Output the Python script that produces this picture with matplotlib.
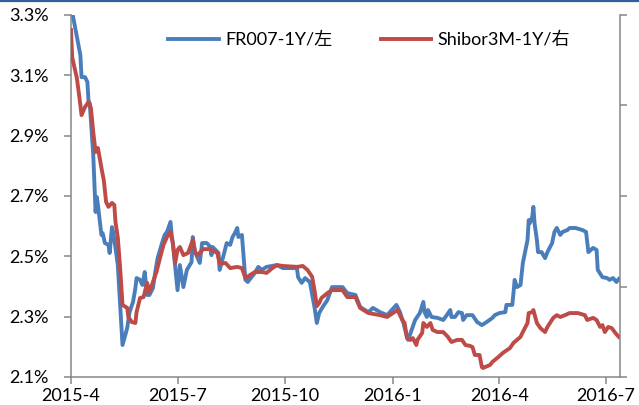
import matplotlib
matplotlib.use("Agg")
import matplotlib.pyplot as plt
from matplotlib.lines import Line2D
import pandas as pd

# days counted from 2015-04-01, values in %
start = pd.Timestamp("2015-04-01")

fr_days = [1, 8, 9, 12, 14, 15, 16, 19, 21, 22, 23, 26, 27, 29, 32, 33, 35, 36, 38, 40,
           42, 44, 48, 50, 53, 55, 56, 59, 61, 63, 65, 67, 70, 72, 74, 78, 80, 82, 85, 86,
           87, 89, 91, 93, 96, 99, 103, 104, 106, 110, 112, 116, 119, 120, 121, 126, 127, 130, 133, 136,
           138, 140, 142, 143, 146, 149, 151, 157, 160, 163, 167, 176, 181, 193, 194, 197, 200, 204, 208, 210,
           212, 215, 219, 223, 232, 236, 243, 247, 254, 258, 264, 270, 274, 278, 281, 284, 287, 288, 291, 294,
           298, 301, 302, 304, 305, 308, 313, 318, 321, 324, 325, 328, 331, 334, 335, 338, 341, 343, 347, 351,
           355, 360, 362, 366, 371, 372, 377, 378, 379, 381, 384, 386, 390, 391, 392, 394, 395, 396, 398, 399,
           402, 405, 407, 411, 413, 415, 418, 420, 424, 426, 431, 437, 440, 442, 446, 449, 450, 454, 458, 460,
           463, 466, 468]
fr_vals = [3.31, 3.167, 3.094, 3.094, 3.078, 3.012, 3.008, 2.836, 2.647, 2.697, 2.670, 2.571, 2.577, 2.544, 2.538, 2.511, 2.597, 2.581, 2.528, 2.471,
           2.339, 2.206, 2.262, 2.315, 2.349, 2.395, 2.428, 2.422, 2.405, 2.448, 2.372, 2.372, 2.395, 2.448, 2.494, 2.547, 2.571, 2.581, 2.614, 2.571,
           2.544, 2.465, 2.388, 2.471, 2.398, 2.455, 2.481, 2.564, 2.514, 2.478, 2.544, 2.544, 2.531, 2.504, 2.531, 2.511, 2.455, 2.498, 2.544, 2.538,
           2.564, 2.577, 2.594, 2.564, 2.571, 2.422, 2.415, 2.445, 2.465, 2.455, 2.465, 2.471, 2.461, 2.461, 2.431, 2.412, 2.428, 2.415, 2.332, 2.279,
           2.312, 2.332, 2.355, 2.398, 2.398, 2.378, 2.372, 2.332, 2.315, 2.329, 2.315, 2.305, 2.322, 2.339, 2.315, 2.279, 2.233, 2.223, 2.256, 2.289,
           2.312, 2.349, 2.315, 2.299, 2.322, 2.299, 2.296, 2.289, 2.305, 2.322, 2.299, 2.299, 2.315, 2.312, 2.289, 2.305, 2.305, 2.305, 2.282, 2.272,
           2.282, 2.296, 2.305, 2.312, 2.315, 2.339, 2.339, 2.378, 2.422, 2.398, 2.405, 2.478, 2.554, 2.620, 2.610, 2.630, 2.664, 2.610, 2.554, 2.514,
           2.514, 2.494, 2.514, 2.544, 2.581, 2.594, 2.571, 2.581, 2.587, 2.594, 2.594, 2.587, 2.581, 2.514, 2.528, 2.521, 2.455, 2.431, 2.428, 2.422,
           2.428, 2.415, 2.425]

sh_days = [0, 1, 5, 8, 9, 12, 15, 17, 19, 21, 23, 26, 28, 30, 32, 35, 37, 38, 40, 42,
           44, 48, 49, 52, 55, 56, 59, 62, 65, 67, 70, 73, 76, 79, 82, 85, 86, 87, 89, 91,
           93, 96, 100, 104, 106, 108, 113, 119, 125, 127, 132, 136, 142, 146, 149, 153, 157, 163, 167, 172,
           176, 181, 193, 198, 202, 206, 208, 210, 212, 214, 219, 223, 232, 236, 243, 247, 254, 264, 270, 275,
           279, 283, 285, 287, 290, 292, 295, 296, 300, 301, 304, 307, 309, 313, 318, 322, 325, 330, 334, 337,
           341, 343, 345, 349, 351, 352, 358, 360, 365, 369, 375, 378, 381, 384, 386, 390, 391, 394, 395, 398,
           401, 405, 407, 412, 415, 418, 422, 426, 433, 439, 441, 446, 449, 452, 454, 456, 459, 462, 465, 468]
sh_vals = [3.25, 3.16, 3.091, 3.002, 2.968, 2.995, 3.012, 2.992, 2.912, 2.846, 2.859, 2.793, 2.753, 2.680, 2.664, 2.677, 2.670, 2.614, 2.561, 2.461,
           2.339, 2.329, 2.299, 2.282, 2.279, 2.315, 2.362, 2.365, 2.412, 2.382, 2.415, 2.448, 2.494, 2.538, 2.564, 2.581, 2.561, 2.544, 2.478, 2.521,
           2.531, 2.504, 2.511, 2.554, 2.514, 2.504, 2.524, 2.524, 2.511, 2.475, 2.478, 2.461, 2.465, 2.461, 2.428, 2.438, 2.448, 2.448, 2.445, 2.461,
           2.471, 2.468, 2.465, 2.468, 2.455, 2.432, 2.388, 2.335, 2.345, 2.362, 2.378, 2.388, 2.388, 2.365, 2.365, 2.329, 2.312, 2.305, 2.299, 2.312,
           2.322, 2.289, 2.279, 2.229, 2.223, 2.229, 2.206, 2.223, 2.246, 2.279, 2.266, 2.279, 2.256, 2.249, 2.249, 2.233, 2.216, 2.223, 2.223, 2.206,
           2.203, 2.199, 2.173, 2.173, 2.133, 2.130, 2.140, 2.150, 2.166, 2.180, 2.196, 2.213, 2.223, 2.233, 2.249, 2.279, 2.312, 2.315, 2.322, 2.279,
           2.262, 2.249, 2.266, 2.296, 2.305, 2.299, 2.305, 2.312, 2.312, 2.305, 2.289, 2.296, 2.289, 2.266, 2.272, 2.249, 2.266, 2.262, 2.246, 2.233]

y_ticks = [2.1, 2.3, 2.5, 2.7, 2.9, 3.1, 3.3]
x_tick_dates = ["2015-04-01", "2015-07-01", "2015-10-01", "2016-01-01", "2016-04-01", "2016-07-01"]
x_tick_labels = ["2015-4", "2015-7", "2015-10", "2016-1", "2016-4", "2016-7"]

blue = "#4A7EBB"
red = "#BE4B48"
grey = "#868686"
fonts = ["Lato", "Noto Sans CJK SC"]
plt.rcParams["font.family"] = fonts

fig = plt.figure(figsize=(6.39, 4.05), dpi=100)
ax = fig.add_axes([71 / 639, 1 - 377 / 405, 549 / 639, 362 / 405])
ax2 = ax.twinx()

fr_x = start + pd.to_timedelta(fr_days, unit="D")
sh_x = start + pd.to_timedelta(sh_days, unit="D")
l1, = ax.plot(fr_x, fr_vals, color=blue, lw=2.8, solid_joinstyle="round", label="FR007-1Y/左")
l2, = ax2.plot(sh_x, sh_vals, color=red, lw=2.8, solid_joinstyle="round", label="Shibor3M-1Y/右")

ax.set_xlim(start, pd.Timestamp("2016-07-13"))
ax.set_ylim(2.1, 3.3)
ax2.set_ylim(2.1, 3.3)
ax.set_yticks(y_ticks)
ax.set_yticklabels([f"{v:.1f}%" for v in y_ticks])
ax2.set_yticks([2.1, 2.4, 2.7, 3.0, 3.3])
ax2.set_yticklabels([])
ax.set_xticks(pd.to_datetime(x_tick_dates))
ax.set_xticklabels(x_tick_labels)

for a in (ax, ax2):
    a.spines["top"].set_visible(False)
    for s in ("left", "right", "bottom"):
        a.spines[s].set_color(grey)
        a.spines[s].set_linewidth(1.1)
ax.spines["right"].set_visible(False)
ax2.spines["left"].set_visible(False)
ax2.spines["bottom"].set_visible(False)

ax.tick_params(axis="y", direction="out", length=5, width=1.1, color=grey, pad=11, labelsize=13)
ax.tick_params(axis="x", direction="out", length=5, width=1.1, color=grey, pad=3, labelsize=13)
ax2.tick_params(axis="y", direction="out", length=5, width=1.1, color=grey)

leg = ax2.legend(handles=[l1, l2], loc="center left", bbox_to_anchor=(0.177, 0.931),
                 ncol=2, frameon=False, fontsize=13, handlelength=2.8, handletextpad=0.35,
                 columnspacing=2.7, borderpad=0, borderaxespad=0)

# thin blue rule along the top edge of the picture
fig.add_artist(Line2D([0, 1], [0.998, 0.998], transform=fig.transFigure, color="#2F5F9F", lw=1.6))

fig.savefig("out.png", dpi=100)
